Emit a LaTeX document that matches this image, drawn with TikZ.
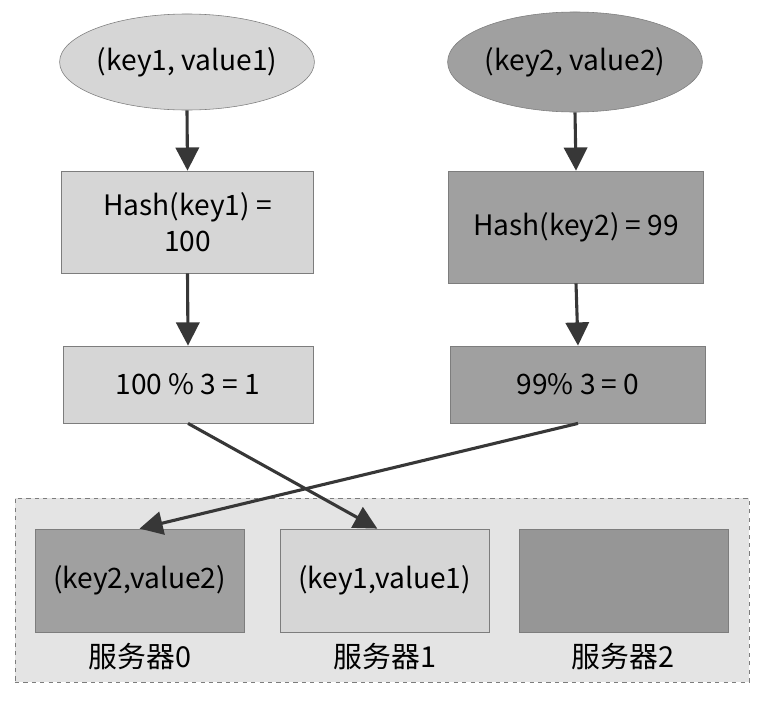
\documentclass[tikz,border=0pt]{standalone}
\usepackage{fontspec}
\setmainfont{Noto Sans CJK SC}
\usetikzlibrary{positioning, arrows.meta, shapes}

\definecolor{lightgrey}{RGB}{214,214,214}
\definecolor{darkgrey}{RGB}{160,160,160}
\definecolor{emptygrey}{RGB}{150,150,150}
\definecolor{poolgrey}{RGB}{228,228,228}
\definecolor{edgegrey}{RGB}{125,125,125}
\definecolor{arrowgrey}{RGB}{55,55,55}

\begin{document}
\begin{tikzpicture}[
    x=0.025cm, y=-0.025cm,
    pair/.style={ellipse, draw=edgegrey, minimum width=6.3cm, minimum height=2.4cm,
                 inner sep=0pt, font=\fontsize{20}{24}\selectfont},
    calc/.style={rectangle, draw=edgegrey, minimum width=6.3cm,
                 align=center, font=\fontsize{20}{26}\selectfont},
    server/.style={rectangle, draw=edgegrey, minimum width=5.23cm, minimum height=2.58cm,
                   font=\fontsize{20}{24}\selectfont},
    pool/.style={rectangle, draw=edgegrey, dashed, fill=poolgrey,
                 minimum width=18.35cm, minimum height=4.6cm},
    caption/.style={font=\fontsize{20.5}{24}\selectfont},
    arrow/.style={-{Triangle[width=0.58cm, length=0.58cm]}, line width=2.2pt, arrowgrey}
  ]
    \useasboundingbox (0,0) rectangle (767,711);

    % key/value pairs
    \node[pair, fill=lightgrey] (kv1) at (187, 62) {(key1, value1)};
    \node[pair, fill=darkgrey, minimum width=6.35cm, minimum height=2.5cm] (kv2) at (575, 62) {(key2, value2)};

    % hash step
    \node[calc, fill=lightgrey, minimum height=2.55cm] (hash1) at (187.5, 222) {Hash(key1) =\\100};
    \node[calc, fill=darkgrey, minimum width=6.38cm, minimum height=2.8cm] (hash2) at (576, 227) {Hash(key2) = 99};

    % modulo step
    \node[calc, fill=lightgrey, minimum width=6.25cm, minimum height=1.93cm] (mod1) at (188, 384.5) {100 \% 3 = 1};
    \node[calc, fill=darkgrey, minimum width=6.38cm, minimum height=1.93cm] (mod2) at (578, 384.5) {99\% 3 = 0};

    % server pool
    \node[pool] (pool) at (382, 590) {};
    \node[server, fill=darkgrey] (srv0) at (139.5, 580.5) {(key2,value2)};
    \node[server, fill=lightgrey] (srv1) at (384.5, 580.5) {(key1,value1)};
    \node[server, fill=emptygrey] (srv2) at (623.5, 580.5) {};
    \node[caption] (lbl0) at (140, 657) {服务器0};
    \node[caption] (lbl1) at (385, 657) {服务器1};
    \node[caption] (lbl2) at (623, 657) {服务器2};

    % arrows
    \draw[arrow] (kv1.south) -- (hash1.north);
    \draw[arrow] (kv2.south) -- (hash2.north);
    \draw[arrow] (hash1.south) -- (mod1.north);
    \draw[arrow] (hash2.south) -- (mod2.north);
    \draw[arrow] (mod1.south) -- ([xshift=-0.18cm]srv1.north);
    \draw[arrow] (mod2.south) -- (srv0.north);

  \end{tikzpicture}
\end{document}
